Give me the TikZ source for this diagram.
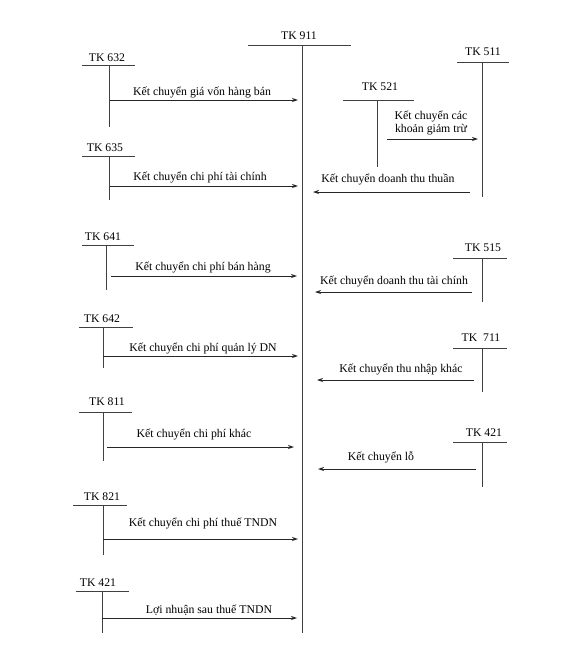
\documentclass[tikz,border=0pt]{standalone}
\usepackage{fontspec}
\setmainfont{Liberation Serif}
\usetikzlibrary{arrows.meta}
\begin{document}
\begin{tikzpicture}[x=1pt,y=-1pt,
  acc/.style={line width=0.9pt,draw=black!75},
  flow/.style={line width=0.9pt,draw=black!85,-{Stealth[length=6pt,width=4pt]}},
  tk/.style={font=\fontsize{11.7}{13}\selectfont,inner sep=0pt},
  lbl/.style={font=\fontsize{11.8}{13.5}\selectfont,inner sep=0pt,align=center}]
\useasboundingbox[fill=white] (0,0) rectangle (585,646);
% TK 911
\node[tk] (t911) at (299,36) {TK 911};
\coordinate (h911a) at (248,45); \coordinate (h911b) at (351,45);
\coordinate (v911a) at (302,45); \coordinate (v911b) at (302,633);
\draw[acc] (h911a) -- (h911b); \draw[acc] (v911a) -- (v911b);
% left accounts
\foreach \n/\tx/\ty/\xa/\xb/\hy/\vx/\ve/\lab in {
  632/107/58/82/135/65/109/127/TK 632,
  635/105/148/82/135/156/109/200/TK 635,
  641/103/237/82/134/245/106/290/TK 641,
  642/102/319/79/133/327/103/368/TK 642,
  811/107/402/79/132/412/103/461/TK 811,
  821/102/497/73/127/505/103/555/TK 821,
  421/98/583/76/129/591/102/633/TK 421}{
  \node[tk] (l\n) at (\tx,\ty) {\lab};
  \coordinate (lh\n a) at (\xa,\hy); \coordinate (lh\n b) at (\xb,\hy);
  \coordinate (lv\n a) at (\vx,\hy); \coordinate (lv\n b) at (\vx,\ve);
  \draw[acc] (lh\n a) -- (lh\n b);
  \draw[acc] (lv\n a) -- (lv\n b);
}
% right accounts
\foreach \n/\tx/\ty/\xa/\xb/\hy/\vx/\ve/\lab in {
  511/483/52/457/509/62/482/197/TK 511,
  521/380/87/343/414/100/377/167/TK 521,
  515/483/248/453/507/258/482/302/TK 515,
  711/481/338/453/507/348/482/392/TK\ \ 711,
  r421/484/433/453/507/442/482/487/TK 421}{
  \node[tk] (r\n) at (\tx,\ty) {\lab};
  \coordinate (rh\n a) at (\xa,\hy); \coordinate (rh\n b) at (\xb,\hy);
  \coordinate (rv\n a) at (\vx,\hy); \coordinate (rv\n b) at (\vx,\ve);
  \draw[acc] (rh\n a) -- (rh\n b);
  \draw[acc] (rv\n a) -- (rv\n b);
}
% left-to-right arrows
\foreach \n/\sx/\ex/\ay/\lx/\ly/\txt in {
  1/110/298/100/202/92/Kết chuyển giá vốn hàng bán,
  2/110/298/186/200/177/Kết chuyển chi phí tài chính,
  3/111/297/276/203/267/Kết chuyển chi phí bán hàng,
  4/103/298/356/203/348/Kết chuyển chi phí quản lý DN,
  5/107/294/447/194/434/Kết chuyển chi phí khác,
  6/103/298/539/203/523/Kết chuyển chi phí thuế TNDN,
  7/102/297/618/209/610/Lợi nhuận sau thuế TNDN}{
  \coordinate (as\n) at (\sx,\ay); \coordinate (ae\n) at (\ex,\ay);
  \draw[flow] (as\n) -- (ae\n);
  \node[lbl] (al\n) at (\lx,\ly) {\txt};
}
% right-to-left arrows
\foreach \n/\sx/\ex/\ay/\lx/\ly/\txt in {
  8/470/313/192/388/179/Kết chuyển doanh thu thuần,
  9/472/315/292/394/281/Kết chuyển doanh thu tài chính,
  10/474/317/380/401/369/Kết chuyển thu nhập khác,
  11/476/318/469/381/457/Kết chuyển lỗ}{
  \coordinate (as\n) at (\sx,\ay); \coordinate (ae\n) at (\ex,\ay);
  \draw[flow] (as\n) -- (ae\n);
  \node[lbl] (al\n) at (\lx,\ly) {\txt};
}
% TK 521 -> TK 511
\coordinate (as12) at (387,139); \coordinate (ae12) at (478,139);
\draw[flow] (as12) -- (ae12);
\node[lbl] (al12) at (431,123) {Kết chuyển các\\khoản giảm trừ};
\end{tikzpicture}
\end{document}
